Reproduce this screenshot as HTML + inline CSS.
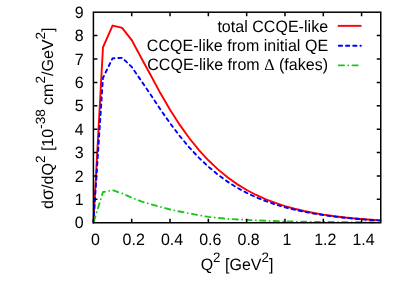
<!DOCTYPE html>
<html><head><meta charset="utf-8"><title>plot</title><style>
html,body{margin:0;padding:0;background:#fff;}
svg{display:block;will-change:transform;}
text{font-family:"Liberation Sans",sans-serif;font-size:16.0px;fill:#000;text-rendering:geometricPrecision;}
</style></head><body>
<svg width="399" height="285" viewBox="0 0 399 285">
<rect width="399" height="285" fill="#fff"/>

<polyline points="93.40,222.75 102.98,47.30 112.56,25.60 122.14,27.90 131.71,40.10 141.29,58.00 150.87,75.57 160.45,93.35 170.03,109.76 179.61,124.67 189.18,138.03 198.76,149.89 208.34,160.31 217.92,169.41 227.50,177.30 237.08,184.11 246.65,189.97 256.23,194.99 265.81,199.29 275.39,202.96 284.97,206.09 294.55,208.75 304.12,211.03 313.70,212.96 323.28,214.61 332.86,216.01 342.44,217.19 352.02,218.20 361.59,219.05 371.17,219.77 380.75,220.37" fill="none" stroke="#ff0000" stroke-width="1.9" stroke-linejoin="miter"/>
<polyline points="93.40,222.75 102.98,77.80 112.56,58.30 122.14,57.80 131.71,66.90 141.29,80.90 150.87,94.99 160.45,109.48 170.03,123.17 179.61,135.81 189.18,147.30 198.76,157.58 208.34,166.68 217.92,174.67 227.50,181.62 237.08,187.65 246.65,192.85 256.23,197.32 265.81,201.15 275.39,204.45 284.97,207.27 294.55,209.68 304.12,211.76 313.70,213.54 323.28,215.06 332.86,216.37 342.44,217.49 352.02,218.45 361.59,219.27 371.17,219.96 380.75,220.54" fill="none" stroke="#0000ff" stroke-width="1.9" stroke-dasharray="3.3,3.9" stroke-linecap="round"/>
<polyline points="93.40,222.75 102.98,192.10 112.56,190.20 122.14,193.40 131.71,197.70 141.29,201.30 150.87,204.30 170.03,209.50 189.18,213.40 208.34,216.90 227.50,218.90 246.65,219.90 265.81,220.80 284.97,221.40 323.28,222.00 380.75,222.40" fill="none" stroke="#1cc41c" stroke-width="1.9" stroke-dasharray="5.2,4.3,0.01,4.2" stroke-dashoffset="-1.5" stroke-linecap="round"/>
<line x1="337.8" x2="361.5" y1="25.85" y2="25.85" stroke="#ff0000" stroke-width="1.9"/>
<line x1="338.8" x2="360.9" y1="45.8" y2="45.8" stroke="#0000ff" stroke-width="1.9" stroke-dasharray="3.3,3.9" stroke-linecap="round"/>
<line x1="338.8" x2="360.9" y1="65.4" y2="65.4" stroke="#1cc41c" stroke-width="1.9" stroke-dasharray="5.2,4.3,0.01,4.2" stroke-linecap="round"/>
<rect x="93.4" y="12.2" width="287.35" height="210.55" fill="none" stroke="#000" stroke-width="1.5"/>
<path d="M131.71,222.75v-4.0M131.71,12.2v4.0M170.03,222.75v-4.0M170.03,12.2v4.0M208.34,222.75v-4.0M208.34,12.2v4.0M246.65,222.75v-4.0M246.65,12.2v4.0M284.97,222.75v-4.0M284.97,12.2v4.0M323.28,222.75v-4.0M323.28,12.2v4.0M361.59,222.75v-4.0M361.59,12.2v4.0M93.4,199.36h4.0M380.75,199.36h-4.0M93.4,175.96h4.0M380.75,175.96h-4.0M93.4,152.57h4.0M380.75,152.57h-4.0M93.4,129.17h4.0M380.75,129.17h-4.0M93.4,105.78h4.0M380.75,105.78h-4.0M93.4,82.38h4.0M380.75,82.38h-4.0M93.4,58.99h4.0M380.75,58.99h-4.0M93.4,35.59h4.0M380.75,35.59h-4.0" stroke="#000" stroke-width="1.5" fill="none"/>
<g transform="scale(1,1.025)">
<text x="83.6" y="222.78" text-anchor="end">0</text>
<text x="83.6" y="199.96" text-anchor="end">1</text>
<text x="83.6" y="177.13" text-anchor="end">2</text>
<text x="83.6" y="154.31" text-anchor="end">3</text>
<text x="83.6" y="131.49" text-anchor="end">4</text>
<text x="83.6" y="108.66" text-anchor="end">5</text>
<text x="83.6" y="85.84" text-anchor="end">6</text>
<text x="83.6" y="63.01" text-anchor="end">7</text>
<text x="83.6" y="40.19" text-anchor="end">8</text>
<text x="83.6" y="17.37" text-anchor="end">9</text>
<text x="95.40" y="238.73" text-anchor="middle">0</text>
<text x="133.71" y="238.73" text-anchor="middle">0.2</text>
<text x="172.03" y="238.73" text-anchor="middle">0.4</text>
<text x="210.34" y="238.73" text-anchor="middle">0.6</text>
<text x="248.65" y="238.73" text-anchor="middle">0.8</text>
<text x="286.97" y="238.73" text-anchor="middle">1</text>
<text x="325.28" y="238.73" text-anchor="middle">1.2</text>
<text x="363.59" y="238.73" text-anchor="middle">1.4</text>
<text x="328.1" y="30.93" text-anchor="end" letter-spacing="0.03">total CCQE-like</text>
<text x="328.1" y="49.46" text-anchor="end" letter-spacing="0.03">CCQE-like from initial QE</text>
<text x="328.1" y="68.29" text-anchor="end" letter-spacing="0.03">CCQE-like from <tspan font-family="Liberation Serif">Δ</tspan> (fakes)</text>
<text x="237" y="263.32" text-anchor="middle">Q<tspan dy="-7.6" font-size="13.4">2</tspan><tspan dy="7.6"> [GeV</tspan><tspan dy="-7.6" font-size="13.4">2</tspan><tspan dy="7.6">]</tspan></text>
<text transform="translate(52.7,115.32) rotate(-90) scale(0.979,1)" text-anchor="middle">d<tspan font-size="17.8">σ</tspan>/dQ<tspan dy="-7.6" font-size="13.4">2</tspan><tspan dy="7.6"> [10</tspan><tspan dy="-7.6" font-size="13.4">-38</tspan><tspan dy="7.6"> cm</tspan><tspan dy="-7.6" font-size="13.4">2</tspan><tspan dy="7.6">/GeV</tspan><tspan dy="-7.6" font-size="13.4">2</tspan><tspan dy="7.6">]</tspan></text>
</g>
</svg></body></html>
